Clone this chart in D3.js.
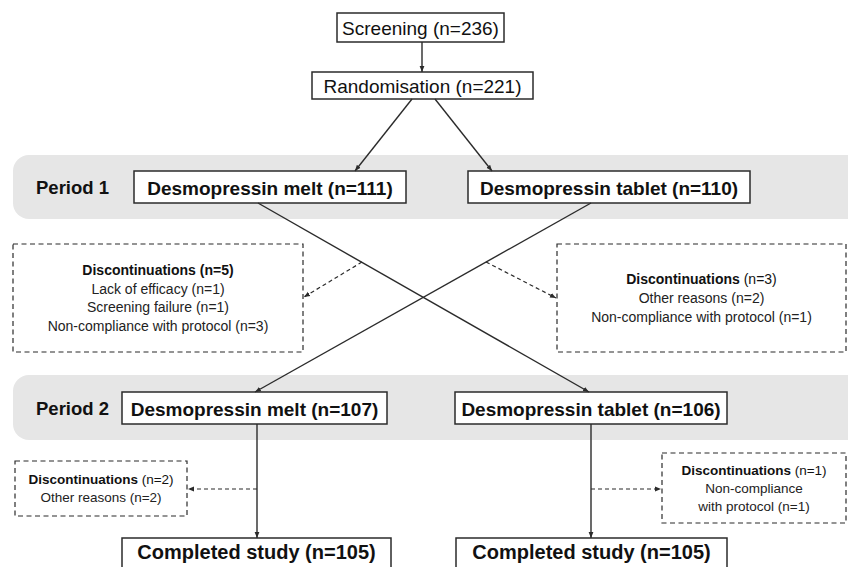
<!DOCTYPE html>
<meta charset="utf-8">
<script src="https://d3js.org/d3.v7.min.js"></script>
<style>
  body { margin: 0; background: #fff; }
  svg { display: block; font-family: "Liberation Sans", Arial, sans-serif; }
</style>
<div id="flow"></div>
<script>

// ---- data ----
var stageLabels   = ["Screening", "Randomisation"];
var stageN        = [236, 221];
var periodLabels  = ["Period 1", "Period 2"];
var armLabels     = ["Desmopressin melt", "Desmopressin tablet"];
var period1N      = [111, 110];
var period2N      = [107, 106];
var completedN    = [105, 105];

var p1MeltReasons   = ["Lack of efficacy", "Screening failure", "Non-compliance with protocol"];
var p1MeltCounts    = [1, 1, 3];
var p1TabletReasons = ["Other reasons", "Non-compliance with protocol"];
var p1TabletCounts  = [2, 1];
var p2MeltReasons   = ["Other reasons"];
var p2MeltCounts    = [2];
var p2TabletReasons = ["Non-compliance with protocol"];
var p2TabletCounts  = [1];

// ---- layout ----
var width = 848, height = 567;

var svg = d3.select("#flow").append("svg")
    .attr("width", width)
    .attr("height", height);

var ink = "#2b2b2b";

svg.append("defs").append("marker")
    .attr("id", "arr")
    .attr("viewBox", "0 0 10 10")
    .attr("refX", 10).attr("refY", 5)
    .attr("markerWidth", 6).attr("markerHeight", 6)
    .attr("markerUnits", "userSpaceOnUse")
    .attr("orient", "auto")
  .append("path")
    .attr("d", "M0,1L10,5L0,9Z")
    .attr("fill", ink);

// column / row positions
var x = d3.scaleOrdinal()
    .domain(["top", "p1L", "p1R", "p2L", "p2R", "cL", "cR"])
    .range([[337, 504], [134, 406], [468, 750], [122, 387], [455, 727], [122, 391], [456, 727]]);
var y = d3.scaleOrdinal()
    .domain(["screen", "rand", "p1", "p2", "done"])
    .range([[13, 42], [72, 99], [171, 203], [392, 424], [538, 580]]);

var bands = [
  {label: periodLabels[0], y0: 155, y1: 219},
  {label: periodLabels[1], y0: 375, y1: 440}
];

svg.selectAll(".band")
  .data(bands)
  .enter().append("rect")
    .attr("class", "band")
    .attr("x", 13).attr("width", 847 - 13 + 20)
    .attr("y", function(d) { return d.y0; })
    .attr("height", function(d) { return d.y1 - d.y0; })
    .attr("rx", 16)
    .style("fill", "#e6e6e6");

svg.selectAll(".plabel")
  .data(bands)
  .enter().append("text")
    .attr("x", 36)
    .attr("y", function(d) { return (d.y0 + d.y1) / 2 + 1; })
    .attr("dy", ".35em")
    .style("font-size", "18.5px")
    .style("font-weight", "bold")
    .style("fill", "#111")
    .text(function(d) { return d.label; });

// solid boxes
var boxes = [
  {col: "top", row: "screen", text: stageLabels[0] + " (n=" + stageN[0] + ")", bold: false, size: 19, w: [337, 504]},
  {col: "top", row: "rand",   text: stageLabels[1] + " (n=" + stageN[1] + ")", bold: false, size: 19, w: [312, 533]},
  {col: "p1L", row: "p1",  text: armLabels[0] + " (n=" + period1N[0] + ")", bold: true, size: 19},
  {col: "p1R", row: "p1",  text: armLabels[1] + " (n=" + period1N[1] + ")", bold: true, size: 19},
  {col: "p2L", row: "p2",  text: armLabels[0] + " (n=" + period2N[0] + ")", bold: true, size: 19},
  {col: "p2R", row: "p2",  text: armLabels[1] + " (n=" + period2N[1] + ")", bold: true, size: 19},
  {col: "cL",  row: "done", text: "Completed study (n=" + completedN[0] + ")", bold: true, size: 20, ty: 552},
  {col: "cR",  row: "done", text: "Completed study (n=" + completedN[1] + ")", bold: true, size: 20, ty: 552}
];

function bx(d) { return d.w || x(d.col); }

var node = svg.selectAll(".node")
  .data(boxes)
  .enter().append("g")
    .attr("class", "node");

node.append("rect")
    .attr("x", function(d) { return bx(d)[0]; })
    .attr("y", function(d) { return y(d.row)[0]; })
    .attr("width", function(d) { return bx(d)[1] - bx(d)[0]; })
    .attr("height", function(d) { return y(d.row)[1] - y(d.row)[0]; })
    .style("fill", "#fff")
    .style("stroke", ink)
    .style("stroke-width", 1.5);

node.append("text")
    .attr("x", function(d) { return (bx(d)[0] + bx(d)[1]) / 2; })
    .attr("y", function(d) { return d.ty || (y(d.row)[0] + y(d.row)[1]) / 2 + 1; })
    .attr("dy", ".35em")
    .attr("text-anchor", "middle")
    .style("font-size", function(d) { return d.size + "px"; })
    .style("font-weight", function(d) { return d.bold ? "bold" : "normal"; })
    .style("fill", "#111")
    .text(function(d) { return d.text; });

// discontinuation boxes
var drops = [
  {x0: 13,  x1: 303, y0: 244, y1: 352, size: 14, allBold: true,
   total: d3.sum(p1MeltCounts),
   lines: p1MeltReasons.map(function(r, i) { return r + " (n=" + p1MeltCounts[i] + ")"; })},
  {x0: 557, x1: 846, y0: 244, y1: 352, size: 14, allBold: false,
   total: d3.sum(p1TabletCounts),
   lines: p1TabletReasons.map(function(r, i) { return r + " (n=" + p1TabletCounts[i] + ")"; })},
  {x0: 15,  x1: 187, y0: 461, y1: 516, size: 13.5, allBold: false,
   total: d3.sum(p2MeltCounts),
   lines: p2MeltReasons.map(function(r, i) { return r + " (n=" + p2MeltCounts[i] + ")"; })},
  {x0: 662, x1: 846, y0: 453, y1: 523, size: 13.5, allBold: false,
   total: d3.sum(p2TabletCounts),
   lines: ["Non-compliance", "with protocol (n=" + p2TabletCounts[0] + ")"]}
];

var drop = svg.selectAll(".drop")
  .data(drops)
  .enter().append("g")
    .attr("class", "drop");

drop.append("rect")
    .attr("x", function(d) { return d.x0; })
    .attr("y", function(d) { return d.y0; })
    .attr("width", function(d) { return d.x1 - d.x0; })
    .attr("height", function(d) { return d.y1 - d.y0; })
    .style("fill", "none")
    .style("stroke", ink)
    .style("stroke-width", 1.2)
    .style("stroke-dasharray", "5,3.5");

drop.each(function(d) {
  var g = d3.select(this);
  var lh = d.size * 1.33;
  var n = d.lines.length + 1;
  var cx = (d.x0 + d.x1) / 2;
  var top = (d.y0 + d.y1) / 2 - (n - 1) * lh / 2;
  var head = g.append("text")
      .attr("x", cx).attr("y", top).attr("dy", ".35em")
      .attr("text-anchor", "middle")
      .style("font-size", d.size + "px")
      .style("fill", "#111");
  head.append("tspan").style("font-weight", "bold").text("Discontinuations");
  head.append("tspan").style("font-weight", d.allBold ? "bold" : "normal")
      .text(" (n=" + d.total + ")");
  d.lines.forEach(function(t, i) {
    g.append("text")
      .attr("x", cx).attr("y", top + (i + 1) * lh).attr("dy", ".35em")
      .attr("text-anchor", "middle")
      .style("font-size", d.size + "px")
      .style("fill", "#222")
      .text(t);
  });
});

// connectors
var links = [
  {a: [422, 42],  b: [422, 72],  dash: false},
  {a: [412, 99],  b: [355, 171], dash: false},
  {a: [435, 99],  b: [492, 171], dash: false},
  {a: [258, 203], b: [589, 392], dash: false},
  {a: [591, 203], b: [255, 392], dash: false},
  {a: [362, 262], b: [304, 297], dash: true},
  {a: [486, 262], b: [556, 298], dash: true},
  {a: [257, 424], b: [257, 538], dash: false},
  {a: [591, 424], b: [591, 538], dash: false},
  {a: [257, 489], b: [188, 489], dash: true},
  {a: [591, 489], b: [661, 489], dash: true}
];

svg.selectAll(".link")
  .data(links)
  .enter().append("line")
    .attr("class", "link")
    .attr("x1", function(d) { return d.a[0]; })
    .attr("y1", function(d) { return d.a[1]; })
    .attr("x2", function(d) { return d.b[0]; })
    .attr("y2", function(d) { return d.b[1]; })
    .style("stroke", ink)
    .style("stroke-width", function(d) { return d.dash ? 1.2 : 1.4; })
    .style("stroke-dasharray", function(d) { return d.dash ? "4,3" : null; })
    .attr("marker-end", "url(#arr)");

</script>
